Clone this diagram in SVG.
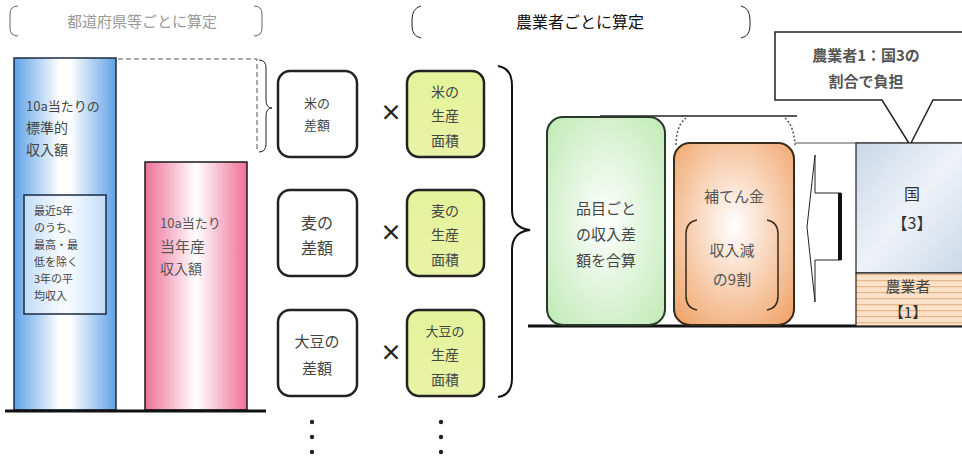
<svg xmlns="http://www.w3.org/2000/svg" width="962" height="462" viewBox="0 0 962 462">
<defs>
<linearGradient id="gBlue" x1="0" y1="0" x2="1" y2="0">
<stop offset="0" stop-color="#5ea2e6"/><stop offset="0.45" stop-color="#ffffff"/><stop offset="0.55" stop-color="#ffffff"/><stop offset="1" stop-color="#5ea2e6"/>
</linearGradient>
<linearGradient id="gPink" x1="0" y1="0" x2="1" y2="0">
<stop offset="0" stop-color="#ef6f98"/><stop offset="0.5" stop-color="#ffffff"/><stop offset="1" stop-color="#ef6f98"/>
</linearGradient>
<radialGradient id="gGreen" cx="0.5" cy="0.5" r="0.7">
<stop offset="0" stop-color="#ffffff"/><stop offset="1" stop-color="#bfeab4"/>
</radialGradient>
<radialGradient id="gOrange" cx="0.5" cy="0.45" r="0.7">
<stop offset="0" stop-color="#ffffff"/><stop offset="1" stop-color="#f0a46a"/>
</radialGradient>
<linearGradient id="gYellow" x1="0" y1="0" x2="0" y2="1">
<stop offset="0" stop-color="#e4f29a"/><stop offset="1" stop-color="#e9f3a6"/>
</linearGradient>
<linearGradient id="gKuni" x1="0" y1="0" x2="1" y2="1">
<stop offset="0" stop-color="#c9d7e8"/><stop offset="0.5" stop-color="#eef2f8"/><stop offset="1" stop-color="#c9d7e8"/>
</linearGradient>
<pattern id="stripes" width="10" height="6" patternUnits="userSpaceOnUse">
<rect width="10" height="6" fill="#fbe1c8"/><rect y="4" width="10" height="1.2" fill="#e8b48a"/>
</pattern>
<style>
text{font-family:"Noto Sans CJK JP","Noto Sans",sans-serif;fill:#444}
.c{text-anchor:middle}
.box{stroke:#222;stroke-width:2.5}
.thin{stroke:#222;stroke-width:1;fill:none}
.base{stroke:#111;stroke-width:3}
.mul{font-size:22px;fill:#222;font-weight:bold}
.dot{fill:#222}
</style>
</defs>

<g id="hdr-pref">
<path d="M18 6 Q10 6 10 14 V28 Q10 36 18 36" class="thin" stroke-width="1.5" style="stroke:#666"/>
<path d="M254 6 Q262 6 262 14 V28 Q262 36 254 36" class="thin" stroke-width="1.5" style="stroke:#666"/>
<text x="142" y="27" class="c" font-size="15" style="fill:#999">都道府県等ごとに算定</text>
</g>

<g id="hdr-farmer">
<path d="M421 6 Q412 8 412 20 V26 Q412 36 421 38" class="thin" stroke-width="2"/>
<path d="M741 6 Q750 8 750 20 V26 Q750 36 741 38" class="thin" stroke-width="2"/>
<text x="580" y="28" class="c" font-size="16" style="fill:#111">農業者ごとに算定</text>
</g>

<g id="blue-bar">
<rect x="14" y="58" width="102" height="352" fill="url(#gBlue)" stroke="#1a2a44" stroke-width="1.5"/>
<text x="26" y="111" font-size="13">10a当たりの</text>
<text x="26" y="133" font-size="14">標準的</text>
<text x="26" y="155" font-size="14">収入額</text>
<rect x="24" y="195" width="82" height="119" fill="#eef5ff" fill-opacity="0.6" stroke="#1a2a44" stroke-width="1.5"/>
<text x="34" y="215" font-size="11">最近5年</text>
<text x="34" y="232" font-size="11">のうち、</text>
<text x="34" y="249" font-size="11">最高・最</text>
<text x="34" y="266" font-size="11">低を除く</text>
<text x="34" y="283" font-size="11">3年の平</text>
<text x="34" y="300" font-size="11">均収入</text>
</g>

<g id="gap">
<path d="M118 59 H257 V150" fill="none" stroke="#555" stroke-width="1" stroke-dasharray="5,3"/>
<path d="M259 60 Q266 60 266 68 V100 Q266 108 272 108 Q266 108 266 116 V144 Q266 152 259 152" class="thin" stroke-width="1.5"/>
</g>

<g id="pink-bar">
<rect x="145" y="162" width="102" height="248" fill="url(#gPink)" stroke="#1a1a1a" stroke-width="1.5"/>
<text x="160" y="228" font-size="13" style="fill:#555">10a当たり</text>
<text x="160" y="252" font-size="15" style="fill:#555">当年産</text>
<text x="160" y="274" font-size="14" style="fill:#555">収入額</text>
</g>

<g id="baseline-left"><line x1="5" y1="411" x2="266" y2="411" class="base"/></g>

<g id="diff-rice">
<rect x="278" y="71" width="79" height="86" rx="12" fill="#fff" class="box"/>
<text x="317" y="108" class="c" font-size="13">米の</text>
<text x="317" y="130" class="c" font-size="13">差額</text>
</g>
<g id="diff-wheat">
<rect x="278" y="190" width="79" height="86" rx="12" fill="#fff" class="box"/>
<text x="317" y="229" class="c" font-size="16">麦の</text>
<text x="317" y="254" class="c" font-size="16">差額</text>
</g>
<g id="diff-soy">
<rect x="278" y="310" width="79" height="86" rx="12" fill="#fff" class="box"/>
<text x="317" y="347" class="c" font-size="15">大豆の</text>
<text x="317" y="374" class="c" font-size="15">差額</text>
</g>

<g id="times">
<text x="391" y="120" class="c mul">×</text>
<text x="391" y="240" class="c mul">×</text>
<text x="391" y="360" class="c mul">×</text>
</g>

<g id="area-rice">
<rect x="407" y="71" width="77" height="86" rx="12" fill="url(#gYellow)" class="box"/>
<text x="445" y="97" class="c" font-size="14">米の</text>
<text x="445" y="121" class="c" font-size="14">生産</text>
<text x="445" y="146" class="c" font-size="14">面積</text>
</g>
<g id="area-wheat">
<rect x="407" y="190" width="77" height="86" rx="12" fill="url(#gYellow)" class="box"/>
<text x="445" y="216" class="c" font-size="14">麦の</text>
<text x="445" y="240" class="c" font-size="14">生産</text>
<text x="445" y="265" class="c" font-size="14">面積</text>
</g>
<g id="area-soy">
<rect x="407" y="310" width="77" height="86" rx="12" fill="url(#gYellow)" class="box"/>
<text x="445" y="336" class="c" font-size="13">大豆の</text>
<text x="445" y="360" class="c" font-size="14">生産</text>
<text x="445" y="385" class="c" font-size="14">面積</text>
</g>

<g id="dots">
<circle cx="312" cy="422" r="2.2" class="dot"/><circle cx="312" cy="437" r="2.2" class="dot"/><circle cx="312" cy="452" r="2.2" class="dot"/>
<circle cx="441" cy="422" r="2.2" class="dot"/><circle cx="441" cy="437" r="2.2" class="dot"/><circle cx="441" cy="452" r="2.2" class="dot"/>
</g>

<g id="connectors">
<path d="M498 66 Q512 68 512 86 V210 Q512 228 530 230 Q512 232 512 250 V378 Q512 395 498 397" fill="none" stroke="#111" stroke-width="2"/>
<line x1="600" y1="116" x2="797" y2="116" stroke="#222" stroke-width="1.5"/>
<path d="M676 145 Q676 126 686 118 M785 118 Q794 126 795 145" fill="none" stroke="#555" stroke-width="1.5" stroke-dasharray="2,2"/>
<line x1="795" y1="143" x2="962" y2="143" stroke="#555" stroke-width="1"/>
<line x1="528" y1="326" x2="962" y2="326" class="base" stroke-width="2.5"/>
</g>

<g id="sum">
<rect x="547" y="117" width="118" height="208" rx="16" fill="url(#gGreen)" stroke="#2a3a2a" stroke-width="2"/>
<text x="606" y="214" class="c" font-size="15">品目ごと</text>
<text x="606" y="240" class="c" font-size="15">の収入差</text>
<text x="606" y="266" class="c" font-size="15">額を合算</text>
</g>

<g id="compensation">
<rect x="674" y="143" width="120" height="182" rx="16" fill="url(#gOrange)" stroke="#3a2a1a" stroke-width="2"/>
<text x="734" y="202" class="c" font-size="15" style="fill:#555">補てん金</text>
<path d="M697 220 Q686 222 686 234 V296 Q686 308 697 310" fill="none" stroke="#3a2a1a" stroke-width="1.5"/>
<path d="M767 220 Q778 222 778 234 V296 Q778 308 767 310" fill="none" stroke="#3a2a1a" stroke-width="1.5"/>
<text x="732" y="256" class="c" font-size="15" style="fill:#555">収入減</text>
<text x="732" y="285" class="c" font-size="15" style="fill:#555">の9割</text>
</g>

<g id="arrow">
<path d="M807 227 L815 155 V193 H841 V260 H815 V302 Z" fill="#fff" stroke="#222" stroke-width="1"/>
<line x1="840" y1="193" x2="840" y2="260" stroke="#111" stroke-width="4"/>
</g>

<g id="callout">
<path d="M775 32 H970 V100 H933 L910 145 L882 100 H775 Z" fill="#fff" stroke="#222" stroke-width="1.5"/>
<text x="866" y="61" class="c" font-size="15" style="fill:#555;font-weight:bold">農業者1：国3の</text>
<text x="866" y="87" class="c" font-size="15" style="fill:#555;font-weight:bold">割合で負担</text>
</g>

<g id="kuni">
<rect x="856" y="143" width="110" height="130" fill="url(#gKuni)" stroke="#222" stroke-width="1.2"/>
<text x="912" y="200" class="c" font-size="16" style="fill:#333">国</text>
<text x="912" y="229" class="c" font-size="16" style="fill:#333">【3】</text>
</g>

<g id="farmer-share">
<rect x="856" y="273" width="110" height="53" fill="url(#stripes)" stroke="#222" stroke-width="1.2"/>
<text x="908" y="292" class="c" font-size="15" style="fill:#444">農業者</text>
<text x="908" y="318" class="c" font-size="15" style="fill:#333">【1】</text>
</g>
</svg>
